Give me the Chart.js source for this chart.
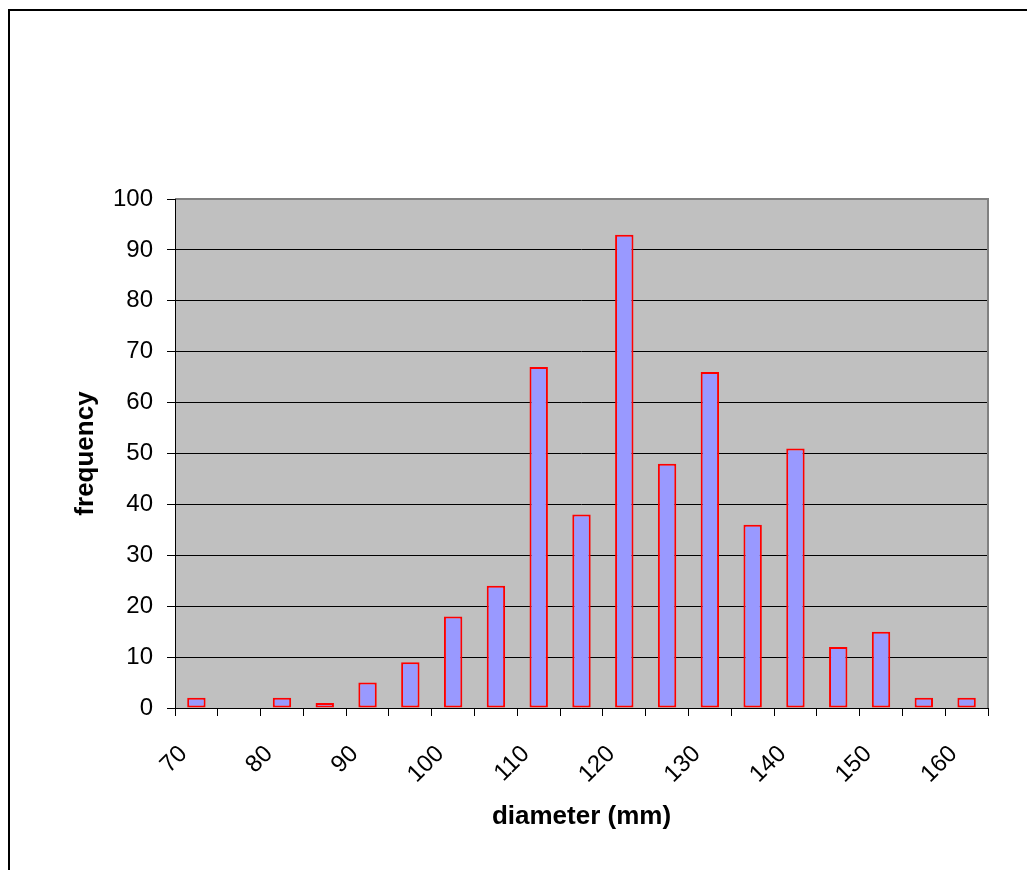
<!DOCTYPE html>
<html>
<head>
<meta charset="utf-8">
<script src="https://cdn.jsdelivr.net/npm/chart.js@4.4.0/dist/chart.umd.min.js"></script>
<style>
html,body{margin:0;padding:0;background:#fff;}
#wrap{width:1027px;height:870px;position:relative;}
</style>
</head>
<body>
<div id="wrap"><canvas id="c" width="1027" height="870"></canvas></div>
<script>
const categories = [70,75,80,85,90,95,100,105,110,115,120,125,130,135,140,145,150,155,160];
const frequency = [2,0,2,1,5,9,18,24,67,38,93,48,66,36,51,12,15,2,2];
const shownTickLabels = ["70","80","90","100","110","120","130","140","150","160"];
const yTicks = [0,10,20,30,40,50,60,70,80,90,100];

const FONT = "'Liberation Sans', Arial, sans-serif";

const bgPlugin = {
  id: 'bg',
  beforeDraw(chart) {
    const {ctx, chartArea: a} = chart;
    ctx.save();
    ctx.fillStyle = '#fff';
    ctx.fillRect(0, 0, chart.width, chart.height);
    ctx.strokeStyle = '#000';
    ctx.lineWidth = 2;
    ctx.strokeRect(9, 10, 1100, 1000);
    ctx.fillStyle = '#C0C0C0';
    ctx.fillRect(a.left, a.top, a.right - a.left, a.bottom - a.top);
    ctx.restore();
  },
  afterDatasetsDraw(chart) {
    const {ctx, chartArea: a} = chart;
    ctx.save();
    ctx.strokeStyle = '#808080';
    ctx.lineWidth = 2;
    ctx.beginPath();
    ctx.moveTo(a.left, a.top);
    ctx.lineTo(a.right, a.top);
    ctx.lineTo(a.right, a.bottom);
    ctx.stroke();
    ctx.strokeStyle = '#000';
    ctx.lineWidth = 1;
    ctx.beginPath();
    ctx.moveTo(a.left + 0.5, a.top);
    ctx.lineTo(a.left + 0.5, a.bottom);
    ctx.moveTo(a.left, a.bottom + 0.5);
    ctx.lineTo(a.right, a.bottom + 0.5);
    ctx.stroke();
    ctx.restore();
  }
};

new Chart(document.getElementById('c'), {
  type: 'bar',
  data: {
    labels: categories.map(String),
    datasets: [{
      data: frequency,
      backgroundColor: '#9999FF',
      borderColor: '#FF0000',
      borderWidth: 2,
      borderSkipped: false,
      barPercentage: 0.43,
      categoryPercentage: 1.0
    }]
  },
  options: {
    responsive: false,
    animation: false,
    devicePixelRatio: 1,
    layout: { padding: { left: 66, top: 199, right: 39, bottom: 34 } },
    plugins: { legend: { display: false }, tooltip: { enabled: false } },
    scales: {
      x: {
        grid: { display: true, drawOnChartArea: false, drawTicks: true, tickLength: 8, color: '#000', offset: true },
        border: { display: false },
        ticks: {
          autoSkip: false, maxRotation: 45, minRotation: 45,
          color: '#000', font: { family: FONT, size: 24 }, padding: 24, labelOffset: -13,
          callback: function(v, i) {
            const s = String(categories[i]);
            return shownTickLabels.includes(s) ? s : '';
          }
        },
        title: { display: true, text: 'diameter (mm)', color: '#000', font: { family: FONT, size: 26, weight: 'bold' }, padding: { top: 4, bottom: 4 } },
        afterFit(s) { s.height = 870 - 34 - 708; }
      },
      y: {
        min: 0, max: 100,
        afterBuildTicks(s) { s.ticks = yTicks.map(v => ({ value: v })); },
        grid: { color: '#000', lineWidth: 1, tickLength: 8, drawTicks: true },
        border: { display: false },
        ticks: { color: '#000', font: { family: FONT, size: 24 }, padding: 14 },
        title: { display: true, text: 'frequency', color: '#000', font: { family: FONT, size: 26, weight: 'bold' }, padding: { top: 4, bottom: 4 } },
        afterFit(s) { s.width = 175 - 66; }
      }
    }
  },
  plugins: [bgPlugin]
});
</script>
</body>
</html>
